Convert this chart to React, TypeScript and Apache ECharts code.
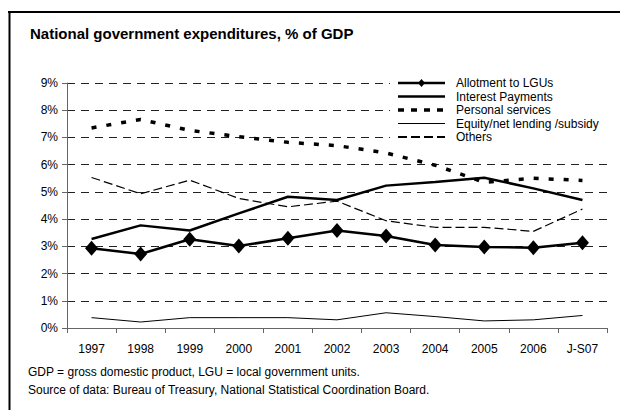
import React, { useEffect, useRef } from "react";
import * as echarts from "echarts";

const categories = ["1997", "1998", "1999", "2000", "2001", "2002", "2003", "2004", "2005", "2006", "J-S07"];
const allotment = [2.93, 2.72, 3.26, 3.01, 3.3, 3.58, 3.38, 3.05, 2.98, 2.95, 3.13];
const interest = [3.27, 3.77, 3.58, 4.21, 4.82, 4.7, 5.23, 5.36, 5.52, 5.13, 4.7];
const personal = [7.35, 7.66, 7.26, 7.03, 6.82, 6.7, 6.43, 5.98, 5.35, 5.5, 5.42];
const equity = [0.38, 0.22, 0.38, 0.38, 0.38, 0.3, 0.56, 0.42, 0.26, 0.3, 0.46];
const others = [5.53, 4.93, 5.43, 4.76, 4.45, 4.66, 3.94, 3.7, 3.7, 3.55, 4.37];
const yTicks = [0, 1, 2, 3, 4, 5, 6, 7, 8, 9];

const legendNames = ["Allotment to LGUs", "Interest Payments", "Personal services", "Equity/net lending /subsidy", "Others"];

const FONT = "'Liberation Sans', Arial, sans-serif";

export default function App() {
  const ref = useRef<HTMLDivElement>(null);
  useEffect(() => {
    if (!ref.current) return;
    const chart = echarts.init(ref.current, null, { renderer: "svg" });
    const legendStyles = [
      { width: 2.5, dash: null as number[] | null, diamond: true },
      { width: 2.5, dash: null, diamond: false },
      { width: 3.5, dash: [6, 7], diamond: false },
      { width: 1, dash: null, diamond: false },
      { width: 2, dash: [9, 4], diamond: false },
    ];
    const rowY = [83, 96.5, 110, 123.5, 137];
    const legendEls: any[] = [
      { type: "rect", z: 100, shape: { x: 390, y: 75, width: 217, height: 69 }, style: { fill: "#fff" } },
    ];
    legendNames.forEach((n, i) => {
      const s = legendStyles[i];
      legendEls.push({
        type: "line",
        z: 101,
        shape: { x1: 398, y1: rowY[i], x2: 445, y2: rowY[i] },
        style: { stroke: "#000", lineWidth: s.width, lineDash: s.dash || undefined },
      });
      if (s.diamond) {
        legendEls.push({
          type: "polygon",
          z: 102,
          shape: { points: [[421.5, rowY[i] - 4], [425, rowY[i]], [421.5, rowY[i] + 4], [418, rowY[i]]] },
          style: { fill: "#000" },
        });
      }
      legendEls.push({
        type: "text",
        z: 101,
        x: 456,
        y: rowY[i],
        style: { text: n, font: `12px ${FONT}`, fill: "#000", textVerticalAlign: "middle" },
      });
    });
    const option: any = {
      animation: false,
      backgroundColor: "#fff",
      textStyle: { fontFamily: FONT },
      grid: { left: 67, right: 13, top: 83, bottom: 82, containLabel: false },
      xAxis: {
        type: "category",
        data: categories,
        boundaryGap: true,
        axisLine: { lineStyle: { color: "#666", width: 1 } },
        axisTick: { show: true, length: 5, alignWithLabel: false, lineStyle: { color: "#666" } },
        axisLabel: { color: "#000", fontSize: 12, fontFamily: FONT, margin: 15, interval: 0 },
        splitLine: { show: false },
      },
      yAxis: {
        type: "value",
        min: yTicks[0],
        max: yTicks[yTicks.length - 1],
        interval: 1,
        axisLine: { show: true, lineStyle: { color: "#666", width: 1 } },
        axisTick: { show: true, length: 5, lineStyle: { color: "#666" } },
        axisLabel: { color: "#000", fontSize: 12, fontFamily: FONT, margin: 9, formatter: (v: number) => v + "%" },
        splitLine: { show: true, lineStyle: { color: "#222", width: 1, type: [8, 6] } },
      },
      series: [
        {
          name: legendNames[0], type: "line", data: allotment, symbol: "diamond", symbolSize: [13, 15],
          itemStyle: { color: "#000" }, lineStyle: { color: "#000", width: 2.5 }, z: 5,
        },
        {
          name: legendNames[1], type: "line", data: interest, symbol: "none",
          lineStyle: { color: "#000", width: 2.5 },
        },
        {
          name: legendNames[2], type: "line", data: personal, symbol: "none",
          lineStyle: { color: "#000", width: 3.5, type: [5, 10] },
        },
        {
          name: legendNames[3], type: "line", data: equity, symbol: "none",
          lineStyle: { color: "#000", width: 1 },
        },
        {
          name: legendNames[4], type: "line", data: others, symbol: "none",
          lineStyle: { color: "#000", width: 1.2, type: [9, 4] },
        },
      ],
      graphic: [
        { type: "line", z: 100, shape: { x1: 8, y1: 12, x2: 620, y2: 12 }, style: { stroke: "#000", lineWidth: 2 } },
        { type: "line", z: 100, shape: { x1: 9.5, y1: 11, x2: 9.5, y2: 410 }, style: { stroke: "#000", lineWidth: 2 } },
        {
          type: "text", z: 100, x: 30, y: 33,
          style: { text: "National government expenditures, % of GDP", font: `bold 15px ${FONT}`, fill: "#000", textVerticalAlign: "middle" },
        },
        {
          type: "text", z: 100, x: 28, y: 372,
          style: { text: "GDP = gross domestic product, LGU = local government units.", font: `12px ${FONT}`, fill: "#000", textVerticalAlign: "middle" },
        },
        {
          type: "text", z: 100, x: 28, y: 390,
          style: { text: "Source of data: Bureau of Treasury, National Statistical Coordination Board.", font: `12px ${FONT}`, fill: "#000", textVerticalAlign: "middle" },
        },
        ...legendEls,
      ],
    };
    chart.setOption(option);
    return () => chart.dispose();
  }, []);
  return <div ref={ref} style={{ position: "fixed", left: 0, top: 0, width: 620, height: 410 }} />;
}
